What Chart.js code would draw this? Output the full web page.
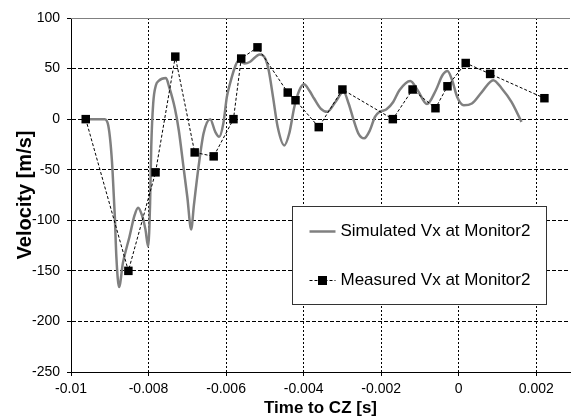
<!DOCTYPE html>
<html>
<head>
<meta charset="utf-8">
<script src="https://cdn.jsdelivr.net/npm/chart.js@4"></script>
<style>
  body { margin: 0; background: #fff; }
  #wrap { width: 576px; height: 420px; position: relative; }
</style>
</head>
<body>
<div id="wrap"><canvas id="velChart"></canvas></div>
<script>
// simulated curve (time s, velocity m/s)
const simTime = [-0.00962, -0.00913, -0.00904, -0.00898, -0.00893, -0.00887, -0.00883, -0.00876, -0.00866, -0.00849,
  -0.00836, -0.00827, -0.00817, -0.00808, -0.00801, -0.00796, -0.00793, -0.00788, -0.00781, -0.00774,
  -0.00755, -0.00747, -0.00732, -0.00722, -0.00709, -0.00700, -0.00690, -0.00683, -0.00671, -0.00658,
  -0.00641, -0.00628, -0.00618, -0.00607, -0.00598, -0.00590, -0.00577, -0.00569, -0.00552, -0.00539,
  -0.00513, -0.00499, -0.00490, -0.00479, -0.00467, -0.00450, -0.00437, -0.00424, -0.00411, -0.00399,
  -0.00385, -0.00373, -0.00356, -0.00339, -0.00318, -0.00297, -0.00284, -0.00271, -0.00259, -0.00244,
  -0.00229, -0.00216, -0.00204, -0.00187, -0.00169, -0.00153, -0.00125, -0.00106, -0.00082, -0.00059,
  -0.00042, -0.00029, -0.00017, -0.00004, 0.00013, 0.00034, 0.00060, 0.00089, 0.00111, 0.00136, 0.00162];
const simVel = [0, 0, -6, -24, -50, -96, -136, -166, -142, -116,
  -95, -87.5, -95, -109, -126, -83, -27, 15.5, 33.5, 37.8,
  40.7, 32, 10.5, -11, -50, -77, -109, -85, -47, -14,
  0, -12.5, -17.5, -4, 22, 35, 51.6, 57.5, 55, 56.5,
  64, 60, 48, 22, -7.6, -26, -14, 12, 28.6, 34.5,
  28, 20.4, 10.5, 7.2, 17, 27, 15.5, -1, -14, -19,
  -11, 2.3, 7.2, 9.5, 17, 28.6, 37.8, 28.6, 15, 28.6,
  43.4, 47.6, 38.5, 22, 13.8, 15.5, 27, 38.5, 30.3, 17, -2.7];

// measured points
const measTime = [-0.00962, -0.00852, -0.00782, -0.00731, -0.00681, -0.00632, -0.00581, -0.00561, -0.00519, -0.00441,
  -0.00421, -0.00361, -0.00300, -0.00170, -0.00119, -0.00060, -0.00029, 0.00018, 0.00081, 0.00221];
const measVel = [0, -150, -52.6, 61.8, -32.9, -36.8, 0, 59.9, 71, 26.3,
  18.7, -7.9, 29.3, 0, 29.3, 10.8, 32.5, 55.5, 44.7, 20.7];

const xTicks = [-0.01, -0.008, -0.006, -0.004, -0.002, 0, 0.002];
const xTickLabels = ['-0.01', '-0.008', '-0.006', '-0.004', '-0.002', '0', '0.002'];
const yTicks = [-250, -200, -150, -100, -50, 0, 50, 100];

const FONT = 'Liberation Sans, Arial, sans-serif';
Chart.defaults.font.family = FONT;
Chart.defaults.color = '#000';

// grey frame line along the top of the plot
const topLine = {
  id: 'topLine',
  beforeDatasetsDraw(chart) {
    const a = chart.chartArea, ctx = chart.ctx;
    ctx.save();
    ctx.strokeStyle = '#808080';
    ctx.lineWidth = 1;
    ctx.beginPath();
    ctx.moveTo(a.left, Math.round(a.top) + 0.5);
    ctx.lineTo(a.right, Math.round(a.top) + 0.5);
    ctx.stroke();
    ctx.restore();
  }
};

// boxed legend inside the plot
const boxLegend = {
  id: 'boxLegend',
  afterDraw(chart) {
    const a = chart.chartArea, ctx = chart.ctx;
    const ds = chart.data.datasets;
    const x0 = Math.round(a.left + 221) + 0.5, y0 = Math.round(a.top + 188) + 0.5;
    const w = 254, h = 98;
    ctx.save();
    ctx.fillStyle = '#fff';
    ctx.fillRect(x0, y0, w, h);
    ctx.strokeStyle = '#333';
    ctx.lineWidth = 1;
    ctx.strokeRect(x0, y0, w, h);

    ctx.font = '17px ' + FONT;
    ctx.textBaseline = 'middle';
    ctx.fillStyle = '#000';
    const sx = x0 + 17, ex = x0 + 43, tx = x0 + 48;
    const rows = [y0 + 25, y0 + 74];

    // simulated
    ctx.strokeStyle = '#808080';
    ctx.lineWidth = 2.5;
    ctx.beginPath(); ctx.moveTo(sx, rows[0]); ctx.lineTo(ex, rows[0]); ctx.stroke();
    ctx.fillText(ds[1].label, tx, rows[0]);

    // measured
    ctx.strokeStyle = '#000';
    ctx.lineWidth = 1;
    ctx.setLineDash([3, 2]);
    ctx.beginPath(); ctx.moveTo(sx, rows[1]); ctx.lineTo(ex, rows[1]); ctx.stroke();
    ctx.setLineDash([]);
    ctx.fillRect((sx + ex) / 2 - 4.5, rows[1] - 4.5, 9, 9);
    ctx.fillText(ds[0].label, tx, rows[1]);
    ctx.restore();
  }
};

const config = {
  type: 'scatter',
  data: {
    datasets: [{
        label: 'Measured Vx at Monitor2',
        data: measTime.map((t, i) => ({x: t, y: measVel[i]})),
        showLine: true,
        borderColor: '#000',
        borderWidth: 1,
        borderDash: [3, 2],
        pointStyle: 'rect',
        pointRadius: 6,
        pointBorderWidth: 0,
        pointBackgroundColor: '#000',
        order: 0
      }, {
        label: 'Simulated Vx at Monitor2',
        data: simTime.map((t, i) => ({x: t, y: simVel[i]})),
        showLine: true,
        borderColor: '#808080',
        borderWidth: 2.5,
        pointRadius: 0,
        cubicInterpolationMode: 'monotone',
        order: 1
      }]
  },
  options: {
    responsive: true,
    maintainAspectRatio: false,
    animation: false,
    layout: { padding: { top: 18, left: 0, right: 0, bottom: 0 } },
    plugins: { legend: { display: false }, tooltip: { enabled: false } },
    scales: {
      x: {
        type: 'linear',
        min: -0.01,
        max: 0.00287,
        afterBuildTicks: s => { s.ticks = xTicks.map(v => ({value: v})); },
        afterFit: s => { s.height = 48; },
        ticks: {
          font: { size: 14 },
          padding: 5,
          maxRotation: 0,
          callback: (v, i) => xTickLabels[i]
        },
        grid: { color: '#000', lineWidth: 1, tickLength: 4, tickColor: '#000' },
        border: { color: '#000', width: 1, dash: [2, 2] },
        title: {
          display: true,
          text: 'Time to CZ [s]',
          font: { size: 17, weight: 'bold' },
          padding: { top: 0, bottom: 1 }
        }
      },
      y: {
        min: -250,
        max: 100,
        afterBuildTicks: s => { s.ticks = yTicks.map(v => ({value: v})); },
        afterFit: s => { s.width = 71; },
        ticks: { font: { size: 14 }, padding: 7 },
        grid: {
          color: c => (c.tick && c.tick.value === 100 ? 'transparent' : '#000'),
          lineWidth: 1, tickLength: 4, tickColor: '#000'
        },
        border: { color: '#000', width: 1, dash: [4, 2] },
        title: {
          display: true,
          text: 'Velocity [m/s]',
          font: { size: 20, weight: 'bold' },
          padding: { top: 13, bottom: 0 }
        }
      }
    }
  },
  plugins: [topLine, boxLegend]
};

new Chart(document.getElementById('velChart').getContext('2d'), config);
</script>
</body>
</html>
